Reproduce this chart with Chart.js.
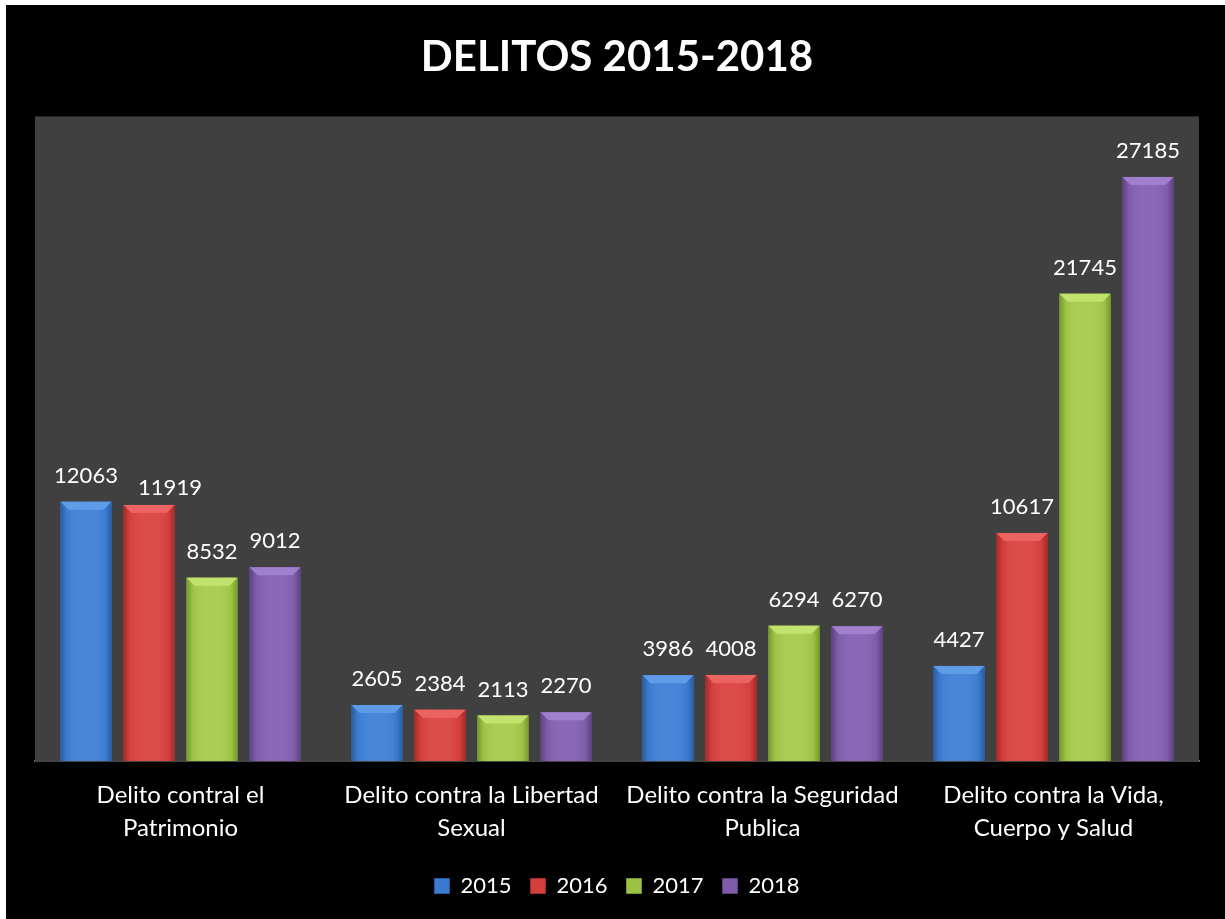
<!DOCTYPE html>
<html>
<head>
<meta charset="utf-8">
<script src="https://cdn.jsdelivr.net/npm/chart.js@4.4.1/dist/chart.umd.min.js"></script>
<style>
  html, body { margin: 0; padding: 0; background: #ffffff; }
  #wrap { position: absolute; left: 6px; top: 5px; width: 1219px; height: 914px; background: #000000; }
</style>
</head>
<body>
<div id="wrap"><canvas id="delitosChart"></canvas></div>
<script>
// data
var categories = [
  ["Delito contral el", "Patrimonio"],
  ["Delito contra la Libertad", "Sexual"],
  ["Delito contra la Seguridad", "Publica"],
  ["Delito contra la Vida,", "Cuerpo y Salud"]
];
var years = ["2015", "2016", "2017", "2018"];
var values2015 = [12063, 2605, 3986, 4427];
var values2016 = [11919, 2384, 4008, 10617];
var values2017 = [8532, 2113, 6294, 21745];
var values2018 = [9012, 2270, 6270, 27185];

var faceColors  = ["#3b7bcf", "#d33f3c", "#9cc245", "#7d5ba8"];
var lightColors = ["#5f9be6", "#ec6462", "#c2e26e", "#a07fcc"];
var darkColors  = ["#2a5da3", "#a52a28", "#779a2f", "#5c4182"];

document.addEventListener("DOMContentLoaded", function () {
  var ctx = document.getElementById("delitosChart").getContext("2d");

  // the 2016 label of the first group is pushed aside in the original to avoid 12063
  var labelNudges = { "1:0": { dx: 21, dy: 9 } };

  // dark gray plot background
  var plotBackground = {
    id: "plotBackground",
    beforeDatasetsDraw: function (chart) {
      var a = chart.chartArea, c = chart.ctx;
      c.save();
      c.fillStyle = "#404040";
      c.fillRect(a.left, a.top, a.right - a.left, a.bottom - a.top);
      c.restore();
    }
  };

  // beveled look on bars + value labels
  var bevelBars = {
    id: "bevelBars",
    afterDatasetsDraw: function (chart) {
      var c = chart.ctx;
      c.save();
      chart.data.datasets.forEach(function (ds, di) {
        var meta = chart.getDatasetMeta(di);
        meta.data.forEach(function (bar, i) {
          var w = bar.width, left = bar.x - w / 2, right = bar.x + w / 2;
          var top = bar.y, bottom = bar.base, b = Math.min(8, (bottom - top) / 2);
          // side shading
          var g = c.createLinearGradient(left, 0, right, 0);
          g.addColorStop(0, darkColors[di]);
          g.addColorStop(0.12, faceColors[di]);
          g.addColorStop(0.5, lightColors[di] + "55");
          g.addColorStop(0.88, faceColors[di]);
          g.addColorStop(1, darkColors[di]);
          c.fillStyle = g;
          c.fillRect(left, top, w, bottom - top);
          // top bevel
          c.fillStyle = lightColors[di];
          c.beginPath();
          c.moveTo(left, top);
          c.lineTo(right, top);
          c.lineTo(right - b, top + b);
          c.lineTo(left + b, top + b);
          c.closePath();
          c.fill();
          // value label
          var n = labelNudges[di + ":" + i] || { dx: 0, dy: 0 };
          c.fillStyle = "#ffffff";
          c.font = "22px Lato";
          c.textAlign = "center";
          c.textBaseline = "alphabetic";
          c.fillText(String(ds.data[i]), bar.x + n.dx, top - 19 + n.dy);
        });
      });
      c.restore();
    }
  };

  var data = {
    labels: categories,
    datasets: [
      { label: years[0], data: values2015, backgroundColor: faceColors[0] },
      { label: years[1], data: values2016, backgroundColor: faceColors[1] },
      { label: years[2], data: values2017, backgroundColor: faceColors[2] },
      { label: years[3], data: values2018, backgroundColor: faceColors[3] }
    ]
  };

  var options = {
    responsive: true,
    maintainAspectRatio: false,
    animation: false,
    categoryPercentage: 0.866,
    barPercentage: 0.81,
    layout: { padding: { left: 29, right: 26, top: 0, bottom: 12 } },
    scales: {
      x: {
        grid: { display: false, drawTicks: false },
        border: { display: true, color: "#8c8c8c", width: 1.5 },
        ticks: {
          color: "#ffffff",
          autoSkip: false,
          maxRotation: 0,
          padding: 18,
          font: { family: "Lato", size: 24, lineHeight: 1.375 }
        },
        afterFit: function (scale) { scale.height -= 7; }
      },
      y: { display: false, min: 0, max: 30000 }
    },
    plugins: {
      title: {
        display: true,
        text: "DELITOS 2015-2018",
        color: "#ffffff",
        font: { family: "Lato", size: 42, weight: "bold", lineHeight: 1.2 },
        padding: { top: 27, bottom: 34 }
      },
      legend: {
        position: "bottom",
        labels: {
          color: "#ffffff",
          boxWidth: 15,
          boxHeight: 15,
          padding: 19,
          font: { family: "Lato", size: 22 },
          generateLabels: function (chart) {
            return chart.data.datasets.map(function (ds, i) {
              return { text: ds.label, fillStyle: faceColors[i], strokeStyle: darkColors[i], lineWidth: 1, fontColor: "#ffffff", datasetIndex: i };
            });
          }
        }
      },
      tooltip: { enabled: false }
    }
  };

  new Chart(ctx, {
    type: "bar",
    data: data,
    options: options,
    plugins: [plotBackground, bevelBars]
  });
});
</script>
</body>
</html>
